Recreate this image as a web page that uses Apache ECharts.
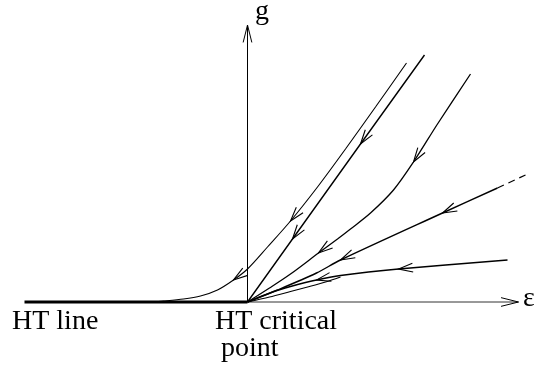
<!DOCTYPE html>
<html><head><meta charset="utf-8">
<script src="https://cdn.jsdelivr.net/npm/echarts@6/dist/echarts.min.js"></script>
<style>html,body{margin:0;padding:0;background:#fff}#c{width:539px;height:367px}</style>
</head><body><div id="c"></div>
<script>
// Flow curves, listed from the downstream end (near the origin) to the upstream end
const curveA = [[-97,0],[-84,1],[-64,3],[-47,6],[-30,12],[-14,22],[0,33],[20,55],[43,81],[70,115],[98,153],[128,195],[159,239]];
const curveB = [[0,0],[45,63],[113,158],[177,247]];
const curveC = [[0,0],[22,14],[43,28],[71,49],[90,63],[103,73],[123,89],[146,112],[166,140],[190,178],[223,228]];
const curveD = [[0,0],[30,12],[69,29],[93,42],[195,89],[250,114]];
const curveDdash = [[250,114],[278,127]];
const curveE = [[0,0],[25,10],[43,15.5],[69,22],[93,26.5],[151,33],[260,42]];
const curveF = [[0,0],[22,5],[43,10.5],[62,15.5],[78,20],[93,25]];
const htLine = [[-223,0],[0,0]];
const xAxisLine = [[0,0],[271,0]];
const yAxisLine = [[0,0],[0,277]];
// indices of arrow tips on each curve
const arrowsA = [5, 8];
const arrowsB = [1, 2];
const arrowsC = [3, 8];
const arrowsD = [3, 4];
const arrowsE = [3, 5];
// axis arrow heads: tip, and a point behind the tip
const axisArrows = [[0,277,0,0],[271,0,0,0]];
const labels = {g:'g', eps:'ε', htLine:'HT line', htCrit:'HT critical', point:'point'};

function line(data, width, color, extra) {
  return Object.assign({type:'line', data:data, showSymbol:false, silent:true,
    lineStyle:{color:color||'#000', width:width}, z:2}, extra||{});
}
function arrows(curve, idxs) {
  const data = idxs.map(i => {
    const a = curve[Math.max(i-1,0)], b = curve[Math.min(i+1,curve.length-1)];
    return [curve[i][0], curve[i][1], b[0]-a[0], b[1]-a[1]];
  });
  return {type:'custom', data:data, silent:true, z:3,
    renderItem:function(params, api){
      const p = api.coord([api.value(0), api.value(1)]);
      const q = api.coord([api.value(0)+api.value(2), api.value(1)+api.value(3)]);
      const ang = Math.atan2(q[1]-p[1], q[0]-p[0]);
      const L = 15, s = 17*Math.PI/180;
      return {type:'polyline', shape:{points:[
        [p[0]+L*Math.cos(ang+s), p[1]+L*Math.sin(ang+s)], p,
        [p[0]+L*Math.cos(ang-s), p[1]+L*Math.sin(ang-s)]]},
        style:{stroke:'#000', lineWidth:1.1, fill:null}};
    }};
}
const axisArrowSeries = {type:'custom', data:axisArrows, silent:true, z:3,
  renderItem:function(params, api){
    const p = api.coord([api.value(0), api.value(1)]);
    const q = api.coord([api.value(2), api.value(3)]);
    const ang = Math.atan2(q[1]-p[1], q[0]-p[0]);
    const L = 18, s = 14*Math.PI/180;
    return {type:'polyline', shape:{points:[
      [p[0]+L*Math.cos(ang+s), p[1]+L*Math.sin(ang+s)], p,
      [p[0]+L*Math.cos(ang-s), p[1]+L*Math.sin(ang-s)]]},
      style:{stroke:'#000', lineWidth:1, fill:null}};
  }};

function txt(x, y, t) {
  return {type:'text', x:x, y:y, style:{text:t, fontFamily:'Liberation Serif', fontSize:28,
    fill:'#000', verticalAlign:'middle'}};
}
const chart = echarts.init(document.getElementById('c'));
chart.setOption({
  animation:false,
  grid:{left:0, right:0, top:0, bottom:0},
  xAxis:{type:'value', min:-247.5, max:291.5, show:false},
  yAxis:{type:'value', min:-65, max:302, show:false},
  series:[
    line(xAxisLine, 1, '#333'),
    line(yAxisLine, 1, '#000'),
    line(htLine, 3, '#000'),
    line(curveA, 1.1, '#000', {smooth:0.3}),
    line(curveB, 1.4, '#000'),
    line(curveC, 1.3, '#000', {smooth:0.3}),
    line(curveD, 1.4, '#000', {smooth:0.3}),
    line(curveDdash, 1.2, '#000', {lineStyle:{color:'#000', width:1.2, type:[7,5]}}),
    line(curveE, 1.4, '#000', {smooth:0.3}),
    line(curveF, 1.1, '#000', {smooth:0.3}),
    arrows(curveA, arrowsA), arrows(curveB, arrowsB), arrows(curveC, arrowsC),
    arrows(curveD, arrowsD), arrows(curveE, arrowsE),
    axisArrowSeries
  ],
  graphic:[
    txt(12, 322, labels.htLine),
    txt(215, 322, labels.htCrit),
    txt(221, 349, labels.point),
    txt(255, 12, labels.g),
    txt(523, 299, labels.eps)
  ]
});
</script></body></html>
